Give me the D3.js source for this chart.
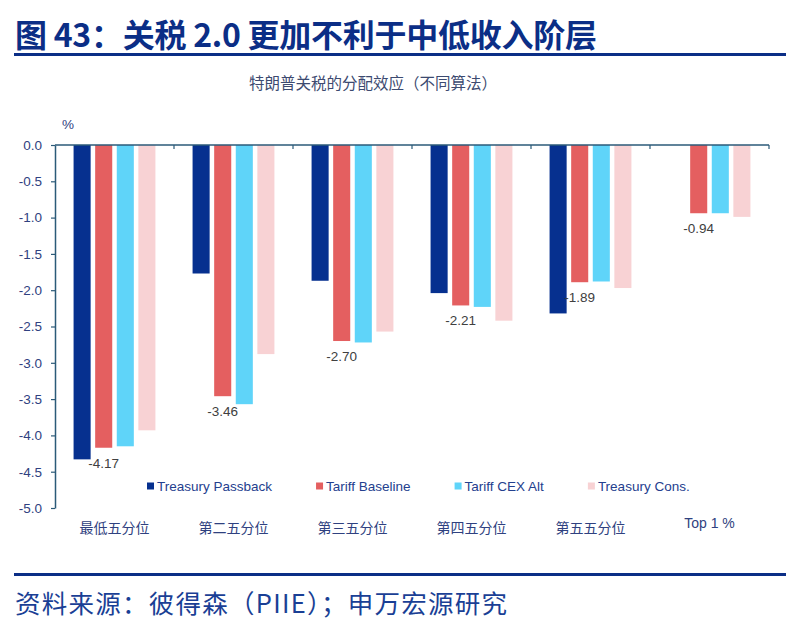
<!DOCTYPE html>
<html>
<head>
<meta charset="utf-8">
<script src="https://cdn.jsdelivr.net/npm/d3@7"></script>
<style>
  html, body { margin: 0; padding: 0; background: #fff; }
  svg { display: block; }
</style>
</head>
<body>
<svg id="chart" width="796" height="622"></svg>
<script>
// ---- data ----
const categories = ["最低五分位", "第二五分位", "第三五分位", "第四五分位", "第五五分位", "Top 1 %"];
const seriesNames = ["Treasury Passback", "Tariff Baseline", "Tariff CEX Alt", "Treasury Cons."];
const treasuryPassback = [-4.33, -1.77, -1.87, -2.04, -2.32, null];
const tariffBaseline   = [-4.17, -3.46, -2.70, -2.21, -1.89, -0.94];
const tariffCexAlt     = [-4.15, -3.57, -2.72, -2.23, -1.88, -0.94];
const treasuryCons     = [-3.93, -2.88, -2.57, -2.42, -1.97, -0.99];
const yTicks = [0, -0.5, -1, -1.5, -2, -2.5, -3, -3.5, -4, -4.5, -5];
const labeledSeries = "Tariff Baseline";

const titleText = "图 43：关税 2.0 更加不利于中低收入阶层";
const subtitleText = "特朗普关税的分配效应（不同算法）";
const sourceText = "资料来源：彼得森（PIIE）；申万宏源研究";
const unitText = "%";

// ---- build table ----
const seriesValues = [treasuryPassback, tariffBaseline, tariffCexAlt, treasuryCons];
const colors = ["#06308f", "#e45f60", "#5fd4f9", "#f8d2d4"];
const colorOf = d3.scaleOrdinal().domain(seriesNames).range(colors);
const rows = categories.map((c, i) => ({
  cat: c,
  vals: seriesNames.map((s, j) => ({ series: s, value: seriesValues[j][i], cat: c }))
}));

const locale = d3.formatLocale({ decimal: ".", thousands: ",", grouping: [3], currency: ["", ""], minus: "-" });
const fmt1 = locale.format(".1f");
const fmt2 = locale.format(".2f");

const svg = d3.select("#chart");
const CJK = "'Noto Sans CJK SC', 'Noto Sans', sans-serif";
const LAT = "'Liberation Sans', Arial, sans-serif";
const navy = "#0b2e86";
const axisColor = "#2b5a78";
const labelColor = "#2f4180";

// ---- header ----
svg.append("text").attr("x", 15).attr("y", 47)
  .attr("font-family", CJK).attr("font-weight", 700).attr("font-size", 32)
  .attr("textLength", 582).attr("lengthAdjust", "spacing")
  .attr("fill", navy).text(titleText);
svg.append("rect").attr("x", 14).attr("y", 53).attr("width", 772).attr("height", 3).attr("fill", navy);

svg.append("text").attr("x", 373).attr("y", 89).attr("text-anchor", "middle")
  .attr("font-family", CJK).attr("font-size", 15.5).attr("fill", "#3c4a70")
  .attr("textLength", 248).attr("lengthAdjust", "spacing").text(subtitleText);

// ---- footer ----
svg.append("rect").attr("x", 14).attr("y", 573).attr("width", 772).attr("height", 3).attr("fill", navy);
svg.append("text").attr("x", 15).attr("y", 613)
  .attr("font-family", CJK).attr("font-size", 25.5).attr("fill", "#1a3f95")
  .attr("textLength", 492).attr("lengthAdjust", "spacing").text(sourceText);

// ---- scales ----
const plotLeft = 55, plotRight = 769, yTop = 145, yBottom = 508;
const y = d3.scaleLinear().domain([-5, 0]).range([yBottom, yTop]);
const x0 = d3.scaleBand().domain(categories).range([plotLeft, plotRight]).paddingInner(0).paddingOuter(0);
const x1 = d3.scaleBand().domain(seriesNames).range([0, x0.bandwidth()]).paddingInner(0.21).paddingOuter(0.86);

// unit label
svg.append("text").attr("x", 62).attr("y", 129)
  .attr("font-family", LAT).attr("font-size", 13.5).attr("fill", labelColor).text(unitText);

// ---- bars ----
const g = svg.append("g");
const groups = g.selectAll("g.grp").data(rows).join("g")
  .attr("class", "grp").attr("transform", d => `translate(${x0(d.cat)},0)`);
groups.selectAll("rect").data(d => d.vals.filter(v => v.value != null)).join("rect")
  .attr("x", d => x1(d.series))
  .attr("width", x1.bandwidth())
  .attr("y", d => y(Math.max(0, d.value)))
  .attr("height", d => Math.abs(y(d.value) - y(0)))
  .attr("fill", d => colorOf(d.series));

// value labels
groups.selectAll("text.val").data(d => d.vals.filter(v => v.series === labeledSeries && v.value != null)).join("text")
  .attr("class", "val")
  .attr("x", d => x1(d.series) + x1.bandwidth() / 2)
  .attr("y", d => y(d.value) + 20)
  .attr("text-anchor", "middle")
  .attr("font-family", LAT).attr("font-size", 13.5).attr("fill", "#404040")
  .text(d => fmt2(d.value));

// ---- y axis ----
const yAxis = d3.axisLeft(y).tickValues(yTicks).tickFormat(fmt1).tickSize(4).tickSizeOuter(0).tickPadding(9);
const yg = svg.append("g").attr("transform", `translate(${plotLeft},0)`).call(yAxis);
yg.select(".domain").attr("stroke", axisColor).attr("stroke-width", 1.5);
yg.selectAll(".tick line").attr("stroke", axisColor).attr("stroke-width", 1.2);
yg.selectAll(".tick text").attr("font-family", LAT).attr("font-size", 13.5).attr("fill", labelColor);

// ---- zero line with category ticks ----
svg.append("line").attr("x1", plotLeft).attr("x2", plotRight).attr("y1", y(0)).attr("y2", y(0))
  .attr("stroke", axisColor).attr("stroke-width", 1.5);
const boundaries = categories.map(c => x0(c)).concat([x0(categories[categories.length - 1]) + x0.bandwidth()]);
svg.selectAll("line.xt").data(boundaries.slice(1)).join("line").attr("class", "xt")
  .attr("x1", d => d).attr("x2", d => d).attr("y1", y(0)).attr("y2", y(0) + 4)
  .attr("stroke", axisColor).attr("stroke-width", 1.2);

// category labels
svg.selectAll("text.cat").data(categories).join("text").attr("class", "cat")
  .attr("x", d => x0(d) + x0.bandwidth() / 2)
  .attr("y", d => /^[\x00-\x7F]+$/.test(d) ? 528 : 533)
  .attr("text-anchor", "middle")
  .attr("font-family", d => /^[\x00-\x7F]+$/.test(d) ? LAT : CJK)
  .attr("font-size", 14).attr("fill", labelColor)
  .text(d => d);

// ---- legend ----
const legend = svg.append("g").attr("transform", "translate(147,0)");
let lx = 0;
seriesNames.forEach((s) => {
  const it = legend.append("g").attr("transform", `translate(${lx},0)`);
  it.append("rect").attr("x", 0).attr("y", 482.5).attr("width", 7).attr("height", 7).attr("fill", colorOf(s));
  const t = it.append("text").attr("x", 10).attr("y", 491)
    .attr("font-family", LAT).attr("font-size", 13.5).attr("fill", "#24408e").text(s);
  const w = t.node().getComputedTextLength();
  lx += 10 + w + 44;
});
</script>
</body>
</html>
